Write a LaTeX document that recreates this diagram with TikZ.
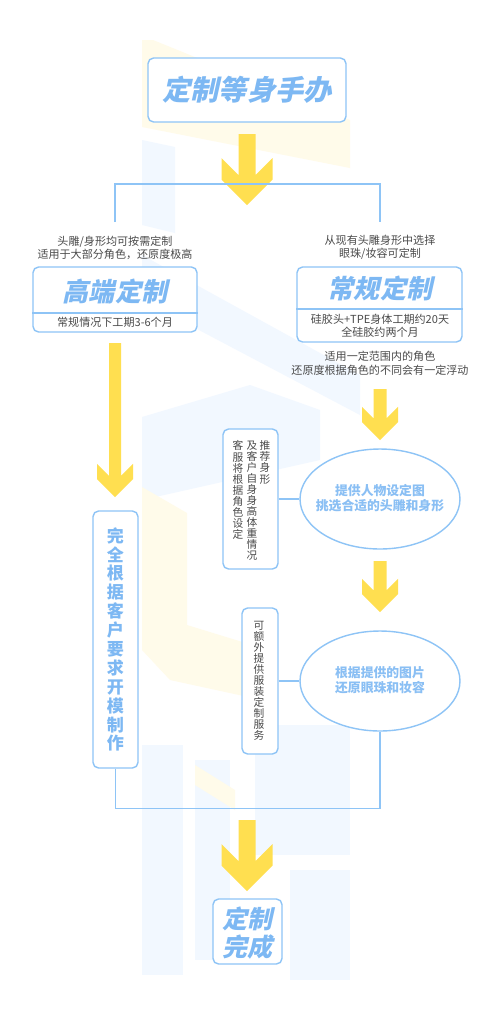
\documentclass[tikz,border=0pt]{standalone}
\usepackage{fontspec}
\setmainfont{Noto Sans CJK SC}
\newfontfamily\slantfont{Noto Sans CJK SC}[FakeSlant=0.22]
\usetikzlibrary{shapes.geometric}

\definecolor{cardblue}{HTML}{8EC4F6}
\definecolor{titleblue}{HTML}{7DB8F3}
\definecolor{arrowyellow}{HTML}{FFDF50}
\definecolor{notegray}{HTML}{4A4A4A}
\definecolor{wmblue}{HTML}{F2F8FF}
\definecolor{wmyellow}{HTML}{FFFBEA}

\tikzset{
  pics/yarrow/.style n args={3}{code={% head half width, shaft half width, length
    \fill[arrowyellow] (-#2,-#3) -- (#2,-#3) -- (#2,{-0.84*#1-#2}) -- (#1,{-1.84*#1})
      -- (#1,-#1) -- (0,0) -- (-#1,-#1) -- (-#1,{-1.84*#1}) -- (-#2,{-0.84*#1-#2}) -- cycle;
  }}
}

\begin{document}
\begin{tikzpicture}[
    x=0.02cm, y=-0.02cm,
    card/.style={draw=cardblue, line width=0.8pt, rounded corners=0.11cm, fill=white, inner sep=0pt},
    bigtitle/.style={font=\slantfont\bfseries\fontsize{16}{18}\selectfont, text=titleblue, inner sep=0pt},
    cardtitle/.style={font=\slantfont\bfseries\fontsize{14.8}{16}\selectfont, text=titleblue, inner sep=0pt},
    note/.style={font=\fontsize{6.3}{7.5}\selectfont, text=notegray, align=center, inner sep=0pt},
    bubble/.style={ellipse, draw=cardblue, line width=0.8pt, fill=white, minimum width=3.2cm, minimum height=2cm, inner sep=0pt},
    bubbletext/.style={font=\bfseries\fontsize{7.3}{8.6}\selectfont, text=titleblue!90, align=center, inner sep=0pt},
    vnote/.style={font=\fontsize{6.1}{6.3}\selectfont, text=notegray, align=center, inner sep=0pt, anchor=north},
    vtitle/.style={font=\bfseries\fontsize{9.7}{10.75}\selectfont, text=titleblue, align=center, inner sep=0pt, anchor=north},
    link/.style={draw=cardblue, line width=0.75pt},
    wmb/.style={fill=wmblue},
    wmy/.style={fill=wmyellow}
  ]
  \useasboundingbox[fill=white] (0,0) rectangle (500,1036);

  % faint background logo
  \fill[wmy] (142,40) -- (153,40) -- (350,120) -- (350,168) -- (142,127) -- cycle;
  \fill[wmb] (142,140) -- (175,147) -- (175,233) -- (142,225) -- cycle;
  \fill[wmb] (142,255) -- (360,375) -- (360,415) -- (142,300) -- cycle;
  \fill[wmb] (142,417) -- (250,385) -- (320,410) -- (320,460) -- (142,500) -- cycle;
  \fill[wmy] (142,487) -- (187,513) -- (187,625) -- (262,648) -- (262,700) -- (170,680) -- (142,650) -- cycle;
  \fill[wmb] (142,745) rectangle (183,975);
  \fill[wmb] (195,760) rectangle (230,960);
  \fill[wmb] (255,725) rectangle (350,855);
  \fill[wmb] (290,870) rectangle (350,980);
  \fill[wmy] (195,765) -- (235,790) -- (235,810) -- (195,785) -- cycle;

  % top
  \node[card, minimum width=3.96cm, minimum height=1.28cm] (top) at (247,90) {};
  \node[bigtitle] (toptext) at (247,90) {定制等身手办};
  \pic at (247,205) {yarrow={25.5}{8.5}{71}};

  % branches
  \coordinate (brl) at (115,222);
  \coordinate (brr) at (380,222);
  \draw[link] (brl) -- ++(0,-38) -| (brr);

  % high end
  \node[note] (hiinfo) at (115,247.5) {头雕/身形均可按需定制\\适用于大部分角色，还原度极高};
  \node[card, minimum width=3.28cm, minimum height=1.3cm] (hi) at (115,299.5) {};
  \coordinate (hidiv) at (115,313);
  \draw[link] (hi.west |- hidiv) -- (hi.east |- hidiv);
  \node[cardtitle] (hititle) at (115,291) {高端定制};
  \node[note] (hinote) at (115,322.5) {常规情况下工期3-6个月};

  % regular
  \node[note] (reinfo) at (380,247.5) {从现有头雕身形中选择\\眼珠/妆容可定制};
  \node[card, minimum width=3.3cm, minimum height=1.5cm] (re) at (379.5,304.5) {};
  \coordinate (rediv) at (380,309);
  \draw[link] (re.west |- rediv) -- (re.east |- rediv);
  \node[cardtitle] (retitle) at (380,288) {常规定制};
  \node[note] (renote) at (380,325.5) {硅胶头+TPE身体工期约20天\\全硅胶约两个月};
  \node[note, font=\fontsize{6.3}{8}\selectfont] (rerange) at (380,363) {适用一定范围内的角色\\还原度根据角色的不同会有一定浮动};

  % regular steps
  \pic at (380,440) {yarrow={18}{6.5}{51}};
  \node[bubble] (pick) at (380,499) {};
  \node[bubbletext] (picktext) at (380,498.5) {提供人物设定图\\挑选合适的头雕和身形};
  \node[card, minimum width=1.1cm, minimum height=2.8cm] (pickside) at (250.5,499) {};
  \node[vnote] at (238,440.5) {客\\服\\将\\根\\据\\角\\色\\设\\定};
  \node[vnote] at (252,440.5) {及\\客\\户\\自\\身\\身\\高\\体\\重\\情\\况};
  \node[vnote] at (265,440.5) {推\\荐\\身\\形};
  \draw[link] (pickside) -- (pick);

  \pic at (380,612) {yarrow={18}{6.5}{51}};
  \node[bubble] (face) at (380,681) {};
  \node[bubbletext] (facetext) at (380,680.5) {根据提供的图片\\还原眼珠和妆容};
  \node[card, minimum width=0.72cm, minimum height=2.92cm] (faceside) at (260,681) {};
  \node[vnote] at (259,620.5) {可\\额\\外\\提\\供\\服\\装\\定\\制\\服\\务};
  \draw[link] (faceside) -- (face);

  % high end step
  \pic at (115,497) {yarrow={18}{6}{154}};
  \node[card, minimum width=0.9cm, minimum height=5.14cm] (mould) at (115.5,639.5) {};
  \node[vtitle] at (115.5,527) {完\\全\\根\\据\\客\\户\\要\\求\\开\\模\\制\\作};

  % merge
  \draw[link] (mould.south) -- ++(0,40) -| (face.south);
  \pic at (247,891) {yarrow={25.5}{8.5}{71}};
  \node[card, minimum width=1.38cm, minimum height=1.3cm] (done) at (247.5,931.5) {};
  \node[bigtitle, font=\slantfont\bfseries\fontsize{14.2}{15.9}\selectfont, align=center] (donetext) at (247.5,933) {定制\\完成};
\end{tikzpicture}
\end{document}
